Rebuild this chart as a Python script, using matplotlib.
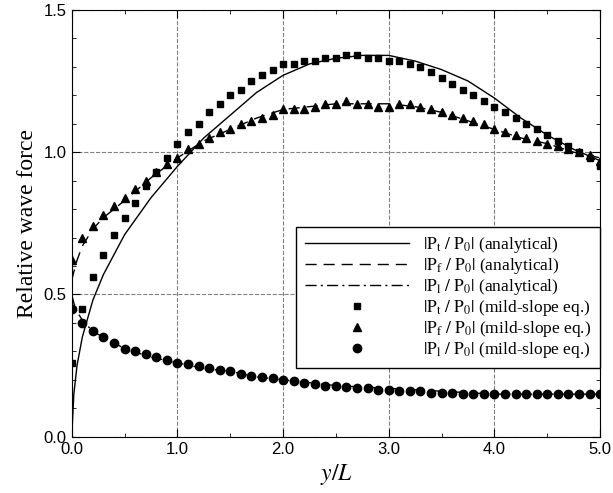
import numpy as np
import matplotlib
matplotlib.use('Agg')
import matplotlib.pyplot as plt
from matplotlib.ticker import MultipleLocator, FormatStrFormatter

# analytical curves
x_line = [0, 0.02, 0.05, 0.1, 0.2, 0.3, 0.5, 0.75, 1.0, 1.25, 1.5, 1.75, 2.0, 2.25,
          2.5, 2.75, 3.0, 3.25, 3.5, 3.75, 4.0, 4.25, 4.5, 4.75, 5.0]
pt_line = [0, 0.15, 0.25, 0.35, 0.48, 0.57, 0.71, 0.84, 0.95, 1.05, 1.13, 1.21, 1.27,
           1.31, 1.33, 1.34, 1.34, 1.32, 1.29, 1.25, 1.19, 1.12, 1.06, 1.01, 0.97]
pf_line = [0.55, 0.58, 0.62, 0.67, 0.73, 0.77, 0.83, 0.91, 0.98, 1.04, 1.08, 1.12, 1.15,
           1.16, 1.17, 1.17, 1.17, 1.16, 1.14, 1.11, 1.08, 1.05, 1.03, 1.00, 0.98]
pl_line = [0.50, 0.47, 0.44, 0.41, 0.37, 0.35, 0.31, 0.28, 0.26, 0.24, 0.23, 0.21, 0.20,
           0.19, 0.18, 0.175, 0.17, 0.165, 0.16, 0.155, 0.15, 0.15, 0.15, 0.15, 0.15]

# mild-slope equation results
x_pts = [round(0.1 * i, 1) for i in range(51)]
pt_pts = [0.26, 0.45, 0.56, 0.64, 0.71, 0.77, 0.82, 0.88, 0.93, 0.98, 1.03, 1.07, 1.10,
          1.14, 1.17, 1.20, 1.22, 1.25, 1.27, 1.29, 1.31, 1.31, 1.32, 1.32, 1.33, 1.33,
          1.34, 1.34, 1.33, 1.33, 1.32, 1.32, 1.31, 1.30, 1.28, 1.26, 1.24, 1.22, 1.20,
          1.18, 1.16, 1.14, 1.12, 1.10, 1.08, 1.06, 1.04, 1.02, 1.00, 0.98, 0.95]
pf_pts = [0.62, 0.70, 0.74, 0.78, 0.81, 0.84, 0.87, 0.90, 0.93, 0.96, 0.98, 1.01, 1.03,
          1.05, 1.07, 1.08, 1.10, 1.11, 1.12, 1.13, 1.15, 1.15, 1.15, 1.16, 1.17, 1.17,
          1.18, 1.17, 1.17, 1.16, 1.16, 1.17, 1.17, 1.16, 1.15, 1.14, 1.13, 1.12, 1.11,
          1.10, 1.08, 1.07, 1.06, 1.05, 1.04, 1.03, 1.02, 1.01, 1.00, 0.99, 0.97]
pl_pts = [0.45, 0.40, 0.37, 0.35, 0.33, 0.31, 0.30, 0.29, 0.28, 0.27, 0.26, 0.255, 0.25,
          0.24, 0.235, 0.23, 0.22, 0.215, 0.21, 0.205, 0.20, 0.195, 0.19, 0.185, 0.18,
          0.18, 0.175, 0.17, 0.17, 0.165, 0.165, 0.16, 0.16, 0.16, 0.155, 0.155, 0.155,
          0.15, 0.15, 0.15, 0.15, 0.15, 0.15, 0.15, 0.15, 0.15, 0.15, 0.15, 0.15, 0.15, 0.15]

plt.rcParams['mathtext.fontset'] = 'stix'
serif = 'Liberation Serif'

fig = plt.figure(figsize=(6.13, 4.93), dpi=100)
ax = fig.add_axes([0.117, 0.114, 0.862, 0.866])

ax.plot(x_line, pt_line, 'k-', lw=1, label=r'$|\mathrm{P_t\ /\ P_0}|$ (analytical)')
ax.plot(x_line, pf_line, 'k', ls=(0, (8, 5)), lw=1, label=r'$|\mathrm{P_f\ /\ P_0}|$ (analytical)')
ax.plot(x_line, pl_line, 'k', ls=(0, (8, 3, 1.5, 3)), lw=1, label=r'$|\mathrm{P_l\ /\ P_0}|$ (analytical)')
ax.plot(x_pts, pt_pts, 'ks', ms=5, ls='none', label=r'$|\mathrm{P_t\ /\ P_0}|$ (mild-slope eq.)')
ax.plot(x_pts, pf_pts, 'k^', ms=6, ls='none', label=r'$|\mathrm{P_f\ /\ P_0}|$ (mild-slope eq.)')
ax.plot(x_pts, pl_pts, 'ko', ms=6, ls='none', label=r'$|\mathrm{P_l\ /\ P_0}|$ (mild-slope eq.)')

ax.set_xlim(0, 5)
ax.set_ylim(0, 1.5)
ax.xaxis.set_major_locator(MultipleLocator(1))
ax.xaxis.set_minor_locator(MultipleLocator(0.5))
ax.yaxis.set_major_locator(MultipleLocator(0.5))
ax.yaxis.set_minor_locator(MultipleLocator(0.1))
ax.xaxis.set_major_formatter(FormatStrFormatter('%.1f'))
ax.yaxis.set_major_formatter(FormatStrFormatter('%.1f'))
ax.tick_params(which='both', direction='in', top=True, right=True, labelsize=12)
ax.tick_params(which='major', length=6)
ax.tick_params(which='minor', length=3)
for t in ax.get_xticklabels() + ax.get_yticklabels():
    t.set_fontfamily('Liberation Sans')
ax.grid(True, which='major', ls='--', color='gray', lw=0.8)

ax.set_xlabel(r'$y/L$', fontsize=17)
ax.set_ylabel('Relative wave force', fontsize=17, family=serif)

leg = ax.legend(loc='lower right', bbox_to_anchor=(1.0, 0.16), borderaxespad=0,
                fancybox=False, edgecolor='black', framealpha=1, handlelength=6,
                prop={'family': serif, 'size': 12.5}, labelspacing=0.05,
                borderpad=0.5)
leg.get_frame().set_linewidth(1)

fig.savefig('out.png', dpi=100)
